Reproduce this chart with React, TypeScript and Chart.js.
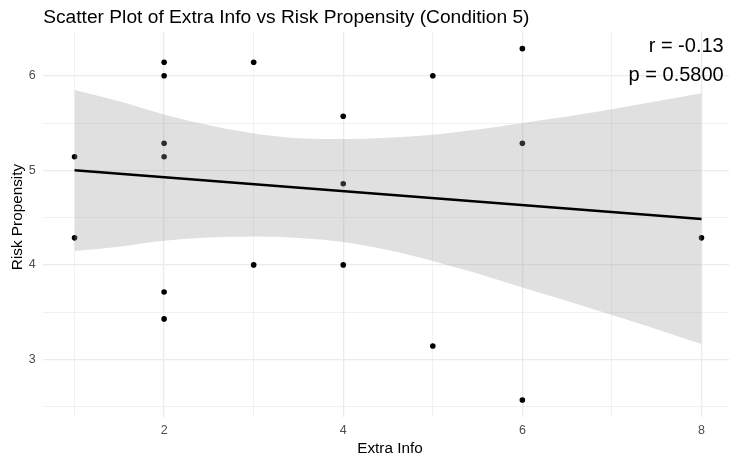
import React, { useEffect, useRef } from "react";
import { Chart, registerables } from "chart.js";

Chart.register(...registerables);

// ---- data ----
const pointX = [1, 1, 2, 2, 2, 2, 2, 2, 3, 3, 4, 4, 4, 5, 5, 6, 6, 6, 8];
const pointY = [5.143, 4.286, 6.143, 6.0, 5.286, 5.143, 3.714, 3.429, 6.143, 4.0, 5.571, 4.857, 4.0, 6.0, 3.143, 6.286, 5.286, 2.571, 4.286];

const fitX = [1, 8];
const fitY = [5.0, 4.485];

const bandX = [1, 1.5, 2, 2.5, 3, 3.5, 4, 4.5, 5, 5.5, 6, 6.5, 7, 7.5, 8];
const bandUpper = [5.85, 5.73, 5.59, 5.475, 5.39, 5.34, 5.33, 5.345, 5.375, 5.43, 5.5, 5.57, 5.645, 5.73, 5.815];
const bandLower = [4.148, 4.193, 4.254, 4.289, 4.3, 4.285, 4.243, 4.157, 4.042, 3.908, 3.76, 3.619, 3.471, 3.32, 3.163];

const xTickValues = [1, 2, 3, 4, 5, 6, 7, 8];
const xTickLabels = ["", "2", "", "4", "", "6", "", "8"];
const yTickValues = [2.5, 3, 3.5, 4, 4.5, 5, 5.5, 6];
const yTickLabels = ["", "3", "", "4", "", "5", "", "6"];

const xRange = [0.65, 8.307];
const yRange = [2.392, 6.462];

const titleText = "Scatter Plot of Extra Info vs Risk Propensity (Condition 5)";
const xTitle = "Extra Info";
const yTitle = "Risk Propensity";
const statLines = ["r = -0.13", "p = 0.5800"];

const FONT = "'Liberation Sans', Arial, Helvetica, sans-serif";

const textPlugin = {
  id: "ggTexts",
  afterDraw(chart: any) {
    const { ctx, chartArea } = chart;
    ctx.save();
    ctx.fillStyle = "#000000";
    ctx.textBaseline = "alphabetic";
    ctx.font = `19.2px ${FONT}`;
    ctx.textAlign = "left";
    ctx.fillText(titleText, chartArea.left, 22.7);
    ctx.font = `20px ${FONT}`;
    ctx.textAlign = "right";
    ctx.fillText(statLines[0], chartArea.right - 5.3, 52);
    ctx.fillText(statLines[1], chartArea.right - 5.3, 80.7);
    ctx.font = `15.3px ${FONT}`;
    ctx.textAlign = "center";
    ctx.fillText(xTitle, 390, 452.7);
    ctx.translate(21.7, 217);
    ctx.rotate(-Math.PI / 2);
    ctx.fillText(yTitle, 0, 0);
    ctx.restore();
  },
};

export default function App() {
  const canvasRef = useRef<HTMLCanvasElement | null>(null);

  useEffect(() => {
    const canvas = canvasRef.current;
    if (!canvas) return;

    const points = pointX.map((x, i) => ({ x, y: pointY[i] }));
    const fit = fitX.map((x, i) => ({ x, y: fitY[i] }));
    const upper = bandX.map((x, i) => ({ x, y: bandUpper[i] }));
    const lower = bandX.map((x, i) => ({ x, y: bandLower[i] }));

    const gridColor = "#EBEBEB";

    const chart = new Chart(canvas, {
      type: "scatter",
      data: {
        datasets: [
          {
            label: "fit",
            data: fit,
            showLine: true,
            borderColor: "#000000",
            borderWidth: 2.6,
            pointRadius: 0,
            fill: false,
            order: 0,
          },
          {
            label: "upper",
            data: upper,
            showLine: true,
            borderColor: "rgba(0,0,0,0)",
            borderWidth: 0,
            pointRadius: 0,
            cubicInterpolationMode: "monotone",
            fill: "+1",
            backgroundColor: "rgba(153,153,153,0.3)",
            order: 1,
          },
          {
            label: "lower",
            data: lower,
            showLine: true,
            borderColor: "rgba(0,0,0,0)",
            borderWidth: 0,
            pointRadius: 0,
            cubicInterpolationMode: "monotone",
            fill: false,
            order: 1,
          },
          {
            label: "points",
            data: points,
            showLine: false,
            pointRadius: 2.8,
            pointBorderWidth: 0,
            pointBackgroundColor: "#000000",
            backgroundColor: "#000000",
            borderColor: "#000000",
            order: 2,
          },
        ],
      } as any,
      options: {
        animation: false,
        responsive: false,
        devicePixelRatio: 1,
        events: [],
        layout: { padding: { top: 32, left: 0, right: 0, bottom: 0 } },
        plugins: {
          legend: { display: false },
          tooltip: { enabled: false },
          title: { display: false },
        },
        scales: {
          x: {
            type: "linear",
            min: xRange[0],
            max: xRange[1],
            afterBuildTicks: (scale: any) => {
              scale.ticks = xTickValues.map((v) => ({ value: v }));
            },
            afterFit: (scale: any) => {
              scale.height = 43;
            },
            ticks: {
              autoSkip: false,
              maxRotation: 0,
              padding: 6,
              color: "#4D4D4D",
              font: { family: FONT, size: 12.5 },
              callback: (value: any) => {
                const i = xTickValues.indexOf(Number(value));
                return i >= 0 ? xTickLabels[i] : "";
              },
            },
            grid: {
              drawTicks: false,
              color: gridColor,
              lineWidth: (ctx: any) => {
                const i = xTickValues.indexOf(ctx.tick ? ctx.tick.value : NaN);
                return i >= 0 && xTickLabels[i] !== "" ? 1.3 : 0.7;
              },
            },
            border: { display: false },
          },
          y: {
            type: "linear",
            min: yRange[0],
            max: yRange[1],
            afterBuildTicks: (scale: any) => {
              scale.ticks = yTickValues.map((v) => ({ value: v }));
            },
            afterFit: (scale: any) => {
              scale.width = 43.2;
            },
            ticks: {
              autoSkip: false,
              padding: 7.5,
              color: "#4D4D4D",
              font: { family: FONT, size: 12.5 },
              callback: (value: any) => {
                const i = yTickValues.indexOf(Number(value));
                return i >= 0 ? yTickLabels[i] : "";
              },
            },
            grid: {
              drawTicks: false,
              color: gridColor,
              lineWidth: (ctx: any) => {
                const i = yTickValues.indexOf(ctx.tick ? ctx.tick.value : NaN);
                return i >= 0 && yTickLabels[i] !== "" ? 1.3 : 0.7;
              },
            },
            border: { display: false },
          },
        },
      } as any,
      plugins: [textPlugin],
    });

    return () => {
      chart.destroy();
    };
  }, []);

  return (
    <div style={{ position: "absolute", left: 0, top: 0, width: 733, height: 460, background: "#ffffff" }}>
      <canvas ref={canvasRef} width={733} height={460} style={{ display: "block", width: 733, height: 460 }} />
    </div>
  );
}
